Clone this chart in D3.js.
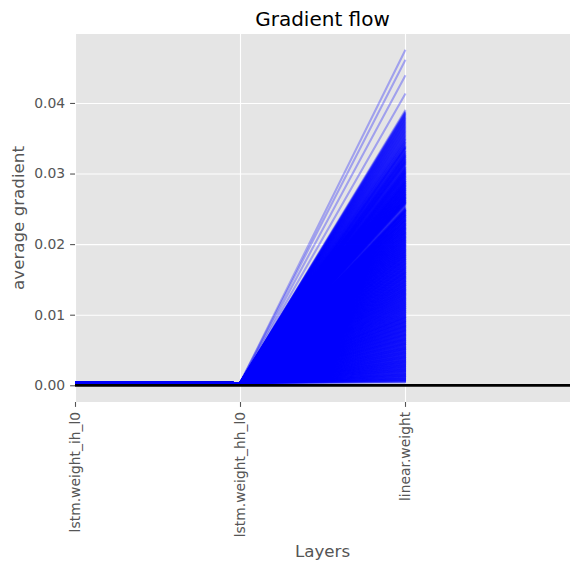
<!DOCTYPE html>
<html lang="en">
<head>
    <meta charset="UTF-8">
    <title>Gradient flow</title>
    <script src="https://d3js.org/d3.v7.min.js"></script>
    <style>
        body { margin: 0; background: #ffffff; }
        text { font-family: "DejaVu Sans", sans-serif; }
    </style>
</head>
<body>

    <script>
        // layer names along the x axis
        var layers = ["lstm.weight_ih_l0", "lstm.weight_hh_l0", "linear.weight"];
        var yTicks = [0, 0.01, 0.02, 0.03, 0.04];

        // average gradient of each layer, one entry per recorded step
        var gradIh = [
            0.00041, 0.00038, 0.00043, 0.00039, 0.00040, 0.00037, 0.00042, 0.00040, 0.00038, 0.00041,
            0.00039, 0.00042, 0.00040, 0.00037, 0.00041, 0.00039, 0.00044, 0.00038, 0.00040, 0.00042,
            0.00040, 0.00038, 0.00041, 0.00043, 0.00039, 0.00036, 0.00040, 0.00042, 0.00039, 0.00041,
            0.00042, 0.00039, 0.00037, 0.00040, 0.00041, 0.00038, 0.00043, 0.00040, 0.00039, 0.00037,
            0.00038, 0.00041, 0.00040, 0.00042, 0.00039, 0.00040, 0.00038, 0.00041, 0.00043, 0.00039,
            0.00040, 0.00037, 0.00039, 0.00041, 0.00042, 0.00038, 0.00040, 0.00039, 0.00041, 0.00040,
            0.00043, 0.00040, 0.00038, 0.00039, 0.00041, 0.00042, 0.00037, 0.00040, 0.00038, 0.00041,
            0.00039, 0.00041, 0.00042, 0.00038, 0.00040, 0.00039, 0.00041, 0.00043, 0.00040, 0.00038,
            0.00041, 0.00038, 0.00040, 0.00042, 0.00037, 0.00041, 0.00039, 0.00040, 0.00042, 0.00039,
            0.00040, 0.00042, 0.00039, 0.00041, 0.00038, 0.00040, 0.00043, 0.00039, 0.00038, 0.00041,
            0.00038, 0.00040, 0.00041, 0.00039, 0.00042, 0.00037, 0.00040, 0.00041, 0.00039, 0.00043,
            0.00041, 0.00039, 0.00038, 0.00042, 0.00040, 0.00041, 0.00038, 0.00039, 0.00040, 0.00042,
            0.00037, 0.00040, 0.00042, 0.00040, 0.00039, 0.00043, 0.00041, 0.00038, 0.00040, 0.00039,
            0.00042, 0.00038, 0.00040, 0.00039, 0.00041, 0.00040, 0.00038, 0.00042, 0.00041, 0.00037,
            0.00040, 0.00041, 0.00039, 0.00043, 0.00038, 0.00040, 0.00042, 0.00039, 0.00041, 0.00040,
            0.00039, 0.00037, 0.00041, 0.00040, 0.00042, 0.00039, 0.00040, 0.00041, 0.00038, 0.00042,
            0.00041, 0.00040, 0.00038, 0.00041, 0.00039, 0.00042, 0.00040, 0.00037, 0.00043, 0.00040,
            0.00038, 0.00042, 0.00040, 0.00039, 0.00041, 0.00038, 0.00041, 0.00040, 0.00039, 0.00042,
            0.00040, 0.00039, 0.00043, 0.00041, 0.00037, 0.00040, 0.00039, 0.00042, 0.00040, 0.00038,
            0.00041, 0.00040, 0.00039, 0.00038, 0.00042, 0.00041, 0.00040, 0.00039, 0.00043, 0.00040,
            0.00039, 0.00041, 0.00042, 0.00040, 0.00038, 0.00039, 0.00041, 0.00040, 0.00037, 0.00041,
            0.00042, 0.00038, 0.00040, 0.00041, 0.00039, 0.00043, 0.00040, 0.00038, 0.00041, 0.00039,
            0.00040, 0.00041, 0.00037, 0.00039, 0.00042, 0.00040, 0.00041, 0.00039, 0.00040, 0.00042,
            0.00038, 0.00040, 0.00042, 0.00041, 0.00039, 0.00038, 0.00040, 0.00043, 0.00039, 0.00040,
            0.00041, 0.00039, 0.00040, 0.00038, 0.00041, 0.00042, 0.00039, 0.00040, 0.00041, 0.00038,
            0.00043, 0.00040, 0.00039, 0.00041, 0.00040, 0.00037, 0.00042, 0.00041, 0.00039, 0.00040,
            0.00039, 0.00042, 0.00041, 0.00040, 0.00038, 0.00040, 0.00039, 0.00042, 0.00040, 0.00041,
            0.00040, 0.00038, 0.00039, 0.00042, 0.00041, 0.00040, 0.00043, 0.00038, 0.00040, 0.00039,
            0.00041, 0.00040, 0.00042, 0.00039, 0.00037, 0.00041, 0.00040, 0.00039, 0.00042, 0.00040,
            0.00038, 0.00041, 0.00040, 0.00042, 0.00040, 0.00039, 0.00038, 0.00041, 0.00040, 0.00043,
            0.00040, 0.00039, 0.00041, 0.00038, 0.00042, 0.00040, 0.00041, 0.00039, 0.00038, 0.00040,
            0.00042, 0.00040, 0.00038, 0.00040, 0.00039, 0.00041, 0.00042, 0.00040, 0.00039, 0.00041,
            0.00039, 0.00041, 0.00040, 0.00043, 0.00040, 0.00038, 0.00039, 0.00041, 0.00042, 0.00039,
            0.00040, 0.00038, 0.00042, 0.00039, 0.00041, 0.00040, 0.00042, 0.00038, 0.00040, 0.00041,
            0.00041, 0.00040, 0.00039, 0.00040, 0.00038, 0.00042, 0.00039, 0.00041, 0.00040, 0.00039,
            0.00039, 0.00042, 0.00040, 0.00041, 0.00039, 0.00040, 0.00041, 0.00038, 0.00040, 0.00042,
            0.00040, 0.00039, 0.00041, 0.00042, 0.00038, 0.00040, 0.00039, 0.00041, 0.00040, 0.00038,
            0.00042, 0.00040, 0.00039, 0.00041, 0.00040, 0.00038, 0.00041, 0.00043, 0.00039, 0.00040,
            0.00039, 0.00041, 0.00040, 0.00038, 0.00042, 0.00040, 0.00039, 0.00040, 0.00041, 0.00042,
            0.00040, 0.00043, 0.00041, 0.00039, 0.00040, 0.00038, 0.00042, 0.00040, 0.00039, 0.00041,
            0.00041, 0.00039, 0.00038, 0.00040, 0.00042, 0.00041, 0.00039, 0.00037, 0.00040, 0.00041,
            0.00038, 0.00040, 0.00042, 0.00041, 0.00039, 0.00040, 0.00043, 0.00040, 0.00041, 0.00039,
            0.00040, 0.00041, 0.00039, 0.00042, 0.00040, 0.00039, 0.00038, 0.00041, 0.00040, 0.00042,
            0.00042, 0.00039, 0.00040, 0.00038, 0.00041, 0.00040, 0.00042, 0.00039, 0.00040, 0.00041,
            0.00039, 0.00040, 0.00043, 0.00041, 0.00039, 0.00042, 0.00040, 0.00038, 0.00039, 0.00040,
            0.00041, 0.00038, 0.00040, 0.00039, 0.00042, 0.00041, 0.00040, 0.00039, 0.00041, 0.00037,
            0.00040, 0.00042, 0.00041, 0.00040, 0.00038, 0.00039, 0.00041, 0.00042, 0.00040, 0.00039,
            0.00038, 0.00041, 0.00039, 0.00040, 0.00043, 0.00040, 0.00039, 0.00041, 0.00038, 0.00040,
            0.00041, 0.00040, 0.00042, 0.00039, 0.00040, 0.00041, 0.00038, 0.00040, 0.00042, 0.00041,
            0.00039, 0.00042, 0.00040, 0.00041, 0.00039, 0.00038, 0.00040, 0.00041, 0.00039, 0.00043,
            0.00040, 0.00039, 0.00041, 0.00037, 0.00040, 0.00042, 0.00041, 0.00039, 0.00040, 0.00038,
            0.00042, 0.00040, 0.00039, 0.00041, 0.00040, 0.00039, 0.00042, 0.00040, 0.00038, 0.00041,
            0.00039, 0.00041, 0.00040, 0.00038, 0.00041, 0.00043, 0.00039, 0.00040, 0.00041, 0.00040,
            0.00040, 0.00038, 0.00041, 0.00040, 0.00039, 0.00041, 0.00040, 0.00042, 0.00039, 0.00040,
            0.00041, 0.00040, 0.00039, 0.00042, 0.00040, 0.00038, 0.00041, 0.00039, 0.00040, 0.00042,
            0.00038, 0.00041, 0.00040, 0.00039, 0.00043, 0.00040, 0.00041, 0.00038, 0.00040, 0.00039,
            0.00040, 0.00042, 0.00039, 0.00040, 0.00041, 0.00039, 0.00040, 0.00041, 0.00042, 0.00038,
            0.00041, 0.00039, 0.00040, 0.00042, 0.00038, 0.00041, 0.00039, 0.00040, 0.00041, 0.00040,
            0.00039, 0.00040, 0.00041, 0.00039, 0.00042, 0.00040, 0.00038, 0.00041, 0.00040, 0.00039,
            0.00042, 0.00041, 0.00039, 0.00040, 0.00038, 0.00041, 0.00040, 0.00043, 0.00039, 0.00041,
            0.00040, 0.00039, 0.00041, 0.00040, 0.00042, 0.00039, 0.00041, 0.00040, 0.00038, 0.00040,
            0.00039, 0.00041, 0.00042, 0.00040, 0.00039, 0.00040, 0.00038, 0.00041, 0.00040, 0.00042,
            0.00041, 0.00040, 0.00038, 0.00039, 0.00041, 0.00042, 0.00040, 0.00039, 0.00041, 0.00040,
            0.00040, 0.00042, 0.00040, 0.00041, 0.00039, 0.00038, 0.00041, 0.00040, 0.00039, 0.00042,
            0.00038, 0.00040, 0.00041, 0.00039, 0.00040, 0.00042, 0.00039, 0.00041, 0.00040, 0.00039,
            0.00041, 0.00039, 0.00040, 0.00042, 0.00041, 0.00040, 0.00039, 0.00038, 0.00041, 0.00040,
            0.00040, 0.00041, 0.00039, 0.00040, 0.00038, 0.00042, 0.00040, 0.00041, 0.00039, 0.00040,
            0.00039, 0.00040, 0.00042, 0.00038, 0.00040, 0.00041, 0.00040, 0.00039, 0.00041, 0.00040,
            0.00041, 0.00040, 0.00039, 0.00041, 0.00040, 0.00038, 0.00040, 0.00039, 0.00041, 0.00040,
            0.00040, 0.00041, 0.00038, 0.00042, 0.00040, 0.00039, 0.00041, 0.00040, 0.00043, 0.00039,
            0.00039, 0.00040, 0.00042, 0.00041, 0.00038, 0.00040, 0.00039, 0.00041, 0.00040, 0.00042,
            0.00042, 0.00039, 0.00040, 0.00038, 0.00041, 0.00043, 0.00040, 0.00039, 0.00041, 0.00040,
            0.00040, 0.00041, 0.00039, 0.00040, 0.00042, 0.00038, 0.00041, 0.00040, 0.00039, 0.00041,
            0.00038, 0.00040, 0.00041, 0.00042, 0.00039, 0.00040, 0.00041, 0.00039, 0.00040, 0.00042,
            0.00041, 0.00042, 0.00040, 0.00039, 0.00041, 0.00040, 0.00038, 0.00042, 0.00040, 0.00039,
            0.00040, 0.00039, 0.00041, 0.00040, 0.00038, 0.00042, 0.00041, 0.00040, 0.00039, 0.00041,
            0.00039, 0.00041, 0.00040, 0.00042, 0.00040, 0.00039, 0.00040, 0.00041, 0.00038, 0.00040,
            0.00041, 0.00040, 0.00039, 0.00040, 0.00041, 0.00042, 0.00039, 0.00040, 0.00041, 0.00039,
            0.00040, 0.00038, 0.00041, 0.00039, 0.00040, 0.00041, 0.00042, 0.00040, 0.00039, 0.00041,
            0.00042, 0.00040, 0.00039, 0.00041, 0.00040, 0.00039, 0.00041, 0.00038, 0.00040, 0.00041,
            0.00039, 0.00041, 0.00040, 0.00040, 0.00042, 0.00041, 0.00039, 0.00040, 0.00041, 0.00040
        ];
        var gradHh = [
            0.00029, 0.00031, 0.00028, 0.00030, 0.00032, 0.00029, 0.00027, 0.00030, 0.00031, 0.00028,
            0.00030, 0.00028, 0.00031, 0.00029, 0.00027, 0.00032, 0.00030, 0.00028, 0.00029, 0.00031,
            0.00031, 0.00029, 0.00030, 0.00028, 0.00031, 0.00030, 0.00029, 0.00032, 0.00028, 0.00030,
            0.00028, 0.00030, 0.00032, 0.00031, 0.00029, 0.00028, 0.00030, 0.00029, 0.00031, 0.00030,
            0.00030, 0.00031, 0.00029, 0.00027, 0.00030, 0.00031, 0.00028, 0.00030, 0.00032, 0.00029,
            0.00029, 0.00030, 0.00031, 0.00030, 0.00028, 0.00029, 0.00031, 0.00030, 0.00029, 0.00031,
            0.00031, 0.00028, 0.00029, 0.00031, 0.00030, 0.00032, 0.00029, 0.00028, 0.00030, 0.00029,
            0.00030, 0.00029, 0.00028, 0.00030, 0.00031, 0.00030, 0.00029, 0.00031, 0.00028, 0.00030,
            0.00028, 0.00031, 0.00030, 0.00029, 0.00032, 0.00030, 0.00031, 0.00029, 0.00030, 0.00028,
            0.00031, 0.00030, 0.00029, 0.00028, 0.00030, 0.00031, 0.00029, 0.00030, 0.00032, 0.00029,
            0.00029, 0.00028, 0.00031, 0.00030, 0.00029, 0.00030, 0.00028, 0.00031, 0.00029, 0.00030,
            0.00030, 0.00032, 0.00029, 0.00031, 0.00028, 0.00029, 0.00030, 0.00031, 0.00030, 0.00028,
            0.00031, 0.00029, 0.00030, 0.00028, 0.00031, 0.00030, 0.00029, 0.00028, 0.00031, 0.00030,
            0.00028, 0.00030, 0.00031, 0.00029, 0.00030, 0.00027, 0.00031, 0.00030, 0.00029, 0.00031,
            0.00030, 0.00029, 0.00028, 0.00031, 0.00029, 0.00030, 0.00032, 0.00029, 0.00030, 0.00028,
            0.00031, 0.00030, 0.00029, 0.00030, 0.00028, 0.00031, 0.00029, 0.00030, 0.00031, 0.00029,
            0.00029, 0.00031, 0.00030, 0.00028, 0.00030, 0.00029, 0.00031, 0.00030, 0.00028, 0.00031,
            0.00030, 0.00028, 0.00029, 0.00031, 0.00030, 0.00032, 0.00028, 0.00029, 0.00030, 0.00031,
            0.00028, 0.00030, 0.00031, 0.00029, 0.00030, 0.00029, 0.00031, 0.00028, 0.00030, 0.00029,
            0.00031, 0.00029, 0.00030, 0.00030, 0.00028, 0.00031, 0.00029, 0.00030, 0.00029, 0.00031,
            0.00030, 0.00031, 0.00028, 0.00029, 0.00031, 0.00030, 0.00028, 0.00030, 0.00031, 0.00029,
            0.00029, 0.00030, 0.00031, 0.00028, 0.00029, 0.00030, 0.00031, 0.00029, 0.00028, 0.00030,
            0.00031, 0.00028, 0.00030, 0.00029, 0.00031, 0.00029, 0.00030, 0.00032, 0.00030, 0.00029,
            0.00030, 0.00029, 0.00028, 0.00030, 0.00031, 0.00029, 0.00030, 0.00028, 0.00031, 0.00030,
            0.00028, 0.00031, 0.00030, 0.00029, 0.00030, 0.00028, 0.00029, 0.00031, 0.00030, 0.00029,
            0.00030, 0.00029, 0.00031, 0.00030, 0.00028, 0.00030, 0.00031, 0.00029, 0.00030, 0.00028,
            0.00029, 0.00030, 0.00028, 0.00031, 0.00030, 0.00029, 0.00030, 0.00031, 0.00029, 0.00030,
            0.00031, 0.00029, 0.00030, 0.00028, 0.00030, 0.00031, 0.00029, 0.00030, 0.00028, 0.00029,
            0.00030, 0.00031, 0.00029, 0.00030, 0.00028, 0.00029, 0.00031, 0.00030, 0.00029, 0.00031,
            0.00028, 0.00030, 0.00029, 0.00031, 0.00030, 0.00028, 0.00030, 0.00029, 0.00031, 0.00030,
            0.00030, 0.00029, 0.00031, 0.00028, 0.00030, 0.00031, 0.00029, 0.00028, 0.00030, 0.00029,
            0.00029, 0.00031, 0.00030, 0.00029, 0.00028, 0.00030, 0.00031, 0.00030, 0.00029, 0.00028,
            0.00031, 0.00030, 0.00028, 0.00030, 0.00029, 0.00031, 0.00030, 0.00029, 0.00031, 0.00030,
            0.00029, 0.00028, 0.00030, 0.00031, 0.00029, 0.00030, 0.00028, 0.00031, 0.00030, 0.00029,
            0.00030, 0.00029, 0.00031, 0.00030, 0.00028, 0.00029, 0.00030, 0.00031, 0.00029, 0.00030,
            0.00031, 0.00030, 0.00029, 0.00028, 0.00031, 0.00030, 0.00029, 0.00030, 0.00028, 0.00031,
            0.00029, 0.00030, 0.00028, 0.00031, 0.00030, 0.00029, 0.00031, 0.00030, 0.00029, 0.00030,
            0.00030, 0.00031, 0.00029, 0.00028, 0.00030, 0.00029, 0.00031, 0.00030, 0.00032, 0.00029,
            0.00028, 0.00030, 0.00031, 0.00029, 0.00030, 0.00031, 0.00028, 0.00029, 0.00030, 0.00031,
            0.00031, 0.00029, 0.00030, 0.00028, 0.00029, 0.00030, 0.00031, 0.00030, 0.00029, 0.00028,
            0.00029, 0.00030, 0.00032, 0.00030, 0.00028, 0.00031, 0.00029, 0.00030, 0.00031, 0.00029,
            0.00030, 0.00028, 0.00029, 0.00031, 0.00030, 0.00029, 0.00030, 0.00028, 0.00031, 0.00030,
            0.00031, 0.00030, 0.00028, 0.00029, 0.00031, 0.00030, 0.00029, 0.00031, 0.00030, 0.00028,
            0.00029, 0.00031, 0.00030, 0.00030, 0.00029, 0.00028, 0.00030, 0.00031, 0.00029, 0.00030,
            0.00030, 0.00029, 0.00031, 0.00028, 0.00030, 0.00031, 0.00029, 0.00030, 0.00028, 0.00031,
            0.00028, 0.00030, 0.00029, 0.00031, 0.00030, 0.00029, 0.00028, 0.00030, 0.00031, 0.00029,
            0.00031, 0.00029, 0.00030, 0.00029, 0.00031, 0.00030, 0.00028, 0.00029, 0.00030, 0.00031,
            0.00030, 0.00028, 0.00031, 0.00030, 0.00029, 0.00031, 0.00030, 0.00029, 0.00028, 0.00030,
            0.00029, 0.00031, 0.00030, 0.00028, 0.00030, 0.00029, 0.00031, 0.00030, 0.00029, 0.00030,
            0.00031, 0.00030, 0.00029, 0.00031, 0.00028, 0.00030, 0.00029, 0.00031, 0.00030, 0.00029,
            0.00028, 0.00029, 0.00031, 0.00030, 0.00029, 0.00030, 0.00031, 0.00028, 0.00030, 0.00031,
            0.00030, 0.00031, 0.00029, 0.00030, 0.00028, 0.00031, 0.00030, 0.00029, 0.00031, 0.00029,
            0.00029, 0.00030, 0.00028, 0.00031, 0.00030, 0.00029, 0.00030, 0.00031, 0.00029, 0.00028,
            0.00031, 0.00029, 0.00030, 0.00029, 0.00031, 0.00028, 0.00030, 0.00029, 0.00030, 0.00031,
            0.00030, 0.00031, 0.00029, 0.00030, 0.00028, 0.00030, 0.00029, 0.00031, 0.00030, 0.00028,
            0.00029, 0.00030, 0.00031, 0.00029, 0.00030, 0.00031, 0.00028, 0.00030, 0.00029, 0.00031,
            0.00031, 0.00028, 0.00030, 0.00031, 0.00029, 0.00030, 0.00029, 0.00028, 0.00031, 0.00030,
            0.00030, 0.00029, 0.00031, 0.00030, 0.00028, 0.00029, 0.00031, 0.00030, 0.00029, 0.00030,
            0.00028, 0.00031, 0.00029, 0.00030, 0.00031, 0.00030, 0.00029, 0.00028, 0.00030, 0.00031,
            0.00029, 0.00030, 0.00031, 0.00028, 0.00030, 0.00029, 0.00031, 0.00030, 0.00029, 0.00030,
            0.00031, 0.00029, 0.00030, 0.00031, 0.00029, 0.00028, 0.00030, 0.00031, 0.00030, 0.00029,
            0.00030, 0.00031, 0.00028, 0.00029, 0.00030, 0.00031, 0.00029, 0.00030, 0.00028, 0.00031,
            0.00029, 0.00030, 0.00031, 0.00030, 0.00029, 0.00028, 0.00031, 0.00029, 0.00030, 0.00030,
            0.00031, 0.00028, 0.00029, 0.00030, 0.00031, 0.00030, 0.00029, 0.00031, 0.00028, 0.00030,
            0.00030, 0.00029, 0.00031, 0.00029, 0.00030, 0.00028, 0.00031, 0.00030, 0.00029, 0.00031,
            0.00028, 0.00030, 0.00030, 0.00031, 0.00029, 0.00030, 0.00028, 0.00029, 0.00031, 0.00030,
            0.00031, 0.00030, 0.00029, 0.00028, 0.00030, 0.00031, 0.00030, 0.00029, 0.00030, 0.00028,
            0.00029, 0.00031, 0.00030, 0.00029, 0.00031, 0.00030, 0.00028, 0.00030, 0.00029, 0.00031,
            0.00030, 0.00028, 0.00031, 0.00030, 0.00029, 0.00030, 0.00031, 0.00029, 0.00028, 0.00030,
            0.00031, 0.00029, 0.00030, 0.00028, 0.00031, 0.00029, 0.00030, 0.00031, 0.00030, 0.00029,
            0.00030, 0.00031, 0.00029, 0.00028, 0.00030, 0.00031, 0.00029, 0.00030, 0.00031, 0.00029,
            0.00029, 0.00030, 0.00031, 0.00030, 0.00028, 0.00029, 0.00030, 0.00031, 0.00029, 0.00030,
            0.00031, 0.00029, 0.00028, 0.00030, 0.00031, 0.00030, 0.00029, 0.00030, 0.00031, 0.00028,
            0.00030, 0.00031, 0.00029, 0.00030, 0.00029, 0.00028, 0.00031, 0.00030, 0.00029, 0.00030,
            0.00028, 0.00030, 0.00031, 0.00029, 0.00030, 0.00031, 0.00029, 0.00030, 0.00028, 0.00031,
            0.00030, 0.00029, 0.00030, 0.00031, 0.00028, 0.00030, 0.00029, 0.00031, 0.00030, 0.00029,
            0.00031, 0.00030, 0.00029, 0.00030, 0.00031, 0.00029, 0.00028, 0.00030, 0.00031, 0.00030,
            0.00029, 0.00030, 0.00028, 0.00031, 0.00030, 0.00029, 0.00031, 0.00030, 0.00029, 0.00030,
            0.00030, 0.00031, 0.00029, 0.00030, 0.00028, 0.00031, 0.00030, 0.00029, 0.00030, 0.00031,
            0.00031, 0.00029, 0.00030, 0.00031, 0.00029, 0.00030, 0.00028, 0.00030, 0.00029, 0.00030
        ];
        var gradLinear = [
            0.0474, 0.0460, 0.0438, 0.0412, 0.0389, 0.0387, 0.0386, 0.0384, 0.0382, 0.0381,
            0.0379, 0.0377, 0.0376, 0.0374, 0.0372, 0.0371, 0.0369, 0.0367, 0.0366, 0.0364,
            0.0362, 0.0361, 0.0359, 0.0358, 0.0356, 0.0355, 0.0353, 0.0352, 0.0351, 0.0349,
            0.0348, 0.0347, 0.0345, 0.0344, 0.0343, 0.0342, 0.0340, 0.0339, 0.0338, 0.0337,
            0.0336, 0.0335, 0.0335, 0.0332, 0.0331, 0.0331, 0.0329, 0.0328, 0.0326, 0.0326,
            0.0325, 0.0324, 0.0323, 0.0322, 0.0321, 0.0320, 0.0319, 0.0318, 0.0317, 0.0316,
            0.0315, 0.0314, 0.0314, 0.0312, 0.0311, 0.0309, 0.0309, 0.0308, 0.0306, 0.0306,
            0.0305, 0.0304, 0.0303, 0.0302, 0.0301, 0.0300, 0.0299, 0.0298, 0.0297, 0.0296,
            0.0295, 0.0294, 0.0292, 0.0292, 0.0291, 0.0289, 0.0289, 0.0288, 0.0286, 0.0286,
            0.0285, 0.0284, 0.0283, 0.0282, 0.0281, 0.0280, 0.0279, 0.0278, 0.0277, 0.0276,
            0.0275, 0.0273, 0.0273, 0.0272, 0.0270, 0.0270, 0.0269, 0.0267, 0.0267, 0.0266,
            0.0265, 0.0264, 0.0263, 0.0262, 0.0261, 0.0260, 0.0259, 0.0258, 0.0257, 0.0256,
            0.0255, 0.0254, 0.0253, 0.0252, 0.0251, 0.0250, 0.0250, 0.0249, 0.0249, 0.0248,
            0.0248, 0.0248, 0.0247, 0.0247, 0.0247, 0.0246, 0.0246, 0.0245, 0.0245, 0.0244,
            0.0244, 0.0244, 0.0243, 0.0243, 0.0242, 0.0242, 0.0241, 0.0241, 0.0241, 0.0240,
            0.0240, 0.0239, 0.0239, 0.0238, 0.0238, 0.0238, 0.0237, 0.0237, 0.0236, 0.0236,
            0.0235, 0.0235, 0.0235, 0.0234, 0.0234, 0.0233, 0.0233, 0.0232, 0.0232, 0.0232,
            0.0231, 0.0231, 0.0230, 0.0230, 0.0229, 0.0229, 0.0229, 0.0228, 0.0228, 0.0227,
            0.0227, 0.0226, 0.0226, 0.0226, 0.0225, 0.0225, 0.0224, 0.0224, 0.0223, 0.0223,
            0.0223, 0.0222, 0.0222, 0.0221, 0.0221, 0.0220, 0.0220, 0.0220, 0.0219, 0.0219,
            0.0218, 0.0218, 0.0217, 0.0217, 0.0217, 0.0216, 0.0216, 0.0215, 0.0215, 0.0214,
            0.0214, 0.0214, 0.0213, 0.0213, 0.0212, 0.0212, 0.0211, 0.0211, 0.0211, 0.0210,
            0.0210, 0.0209, 0.0209, 0.0208, 0.0208, 0.0208, 0.0207, 0.0207, 0.0206, 0.0206,
            0.0205, 0.0205, 0.0205, 0.0204, 0.0204, 0.0203, 0.0203, 0.0202, 0.0202, 0.0202,
            0.0201, 0.0201, 0.0200, 0.0200, 0.0199, 0.0199, 0.0199, 0.0198, 0.0198, 0.0197,
            0.0197, 0.0196, 0.0196, 0.0196, 0.0195, 0.0195, 0.0194, 0.0194, 0.0193, 0.0193,
            0.0193, 0.0192, 0.0192, 0.0191, 0.0191, 0.0190, 0.0190, 0.0190, 0.0189, 0.0189,
            0.0188, 0.0188, 0.0187, 0.0187, 0.0187, 0.0186, 0.0186, 0.0185, 0.0185, 0.0184,
            0.0184, 0.0184, 0.0183, 0.0183, 0.0182, 0.0182, 0.0181, 0.0181, 0.0181, 0.0180,
            0.0180, 0.0179, 0.0179, 0.0178, 0.0178, 0.0178, 0.0177, 0.0177, 0.0176, 0.0176,
            0.0175, 0.0175, 0.0175, 0.0174, 0.0174, 0.0173, 0.0173, 0.0172, 0.0172, 0.0172,
            0.0171, 0.0171, 0.0170, 0.0170, 0.0169, 0.0169, 0.0169, 0.0168, 0.0168, 0.0167,
            0.0167, 0.0166, 0.0166, 0.0166, 0.0165, 0.0165, 0.0164, 0.0164, 0.0163, 0.0163,
            0.0163, 0.0162, 0.0162, 0.0161, 0.0161, 0.0160, 0.0160, 0.0160, 0.0159, 0.0159,
            0.0158, 0.0158, 0.0157, 0.0157, 0.0157, 0.0156, 0.0156, 0.0155, 0.0155, 0.0154,
            0.0154, 0.0154, 0.0153, 0.0153, 0.0152, 0.0152, 0.0151, 0.0151, 0.0151, 0.0150,
            0.0150, 0.0149, 0.0149, 0.0148, 0.0148, 0.0148, 0.0147, 0.0147, 0.0146, 0.0146,
            0.0145, 0.0145, 0.0145, 0.0144, 0.0144, 0.0143, 0.0143, 0.0142, 0.0142, 0.0142,
            0.0141, 0.0141, 0.0140, 0.0140, 0.0139, 0.0139, 0.0139, 0.0138, 0.0138, 0.0137,
            0.0137, 0.0136, 0.0136, 0.0136, 0.0135, 0.0135, 0.0134, 0.0134, 0.0133, 0.0133,
            0.0133, 0.0132, 0.0132, 0.0131, 0.0131, 0.0130, 0.0130, 0.0130, 0.0129, 0.0129,
            0.0128, 0.0128, 0.0127, 0.0127, 0.0127, 0.0126, 0.0126, 0.0125, 0.0125, 0.0124,
            0.0124, 0.0124, 0.0123, 0.0123, 0.0122, 0.0122, 0.0121, 0.0121, 0.0121, 0.0120,
            0.0120, 0.0119, 0.0119, 0.0118, 0.0118, 0.0118, 0.0117, 0.0117, 0.0116, 0.0116,
            0.0115, 0.0115, 0.0115, 0.0114, 0.0114, 0.0113, 0.0113, 0.0112, 0.0112, 0.0112,
            0.0111, 0.0111, 0.0110, 0.0110, 0.0109, 0.0109, 0.0109, 0.0108, 0.0108, 0.0107,
            0.0107, 0.0106, 0.0106, 0.0106, 0.0105, 0.0105, 0.0104, 0.0104, 0.0103, 0.0103,
            0.0103, 0.0102, 0.0102, 0.0101, 0.0101, 0.0100, 0.0100, 0.0100, 0.0099, 0.0099,
            0.0098, 0.0098, 0.0097, 0.0097, 0.0097, 0.0096, 0.0096, 0.0095, 0.0095, 0.0094,
            0.0094, 0.0094, 0.0093, 0.0093, 0.0092, 0.0092, 0.0091, 0.0091, 0.0091, 0.0090,
            0.0090, 0.0089, 0.0089, 0.0088, 0.0088, 0.0088, 0.0087, 0.0087, 0.0086, 0.0086,
            0.0085, 0.0085, 0.0085, 0.0084, 0.0084, 0.0083, 0.0083, 0.0082, 0.0082, 0.0082,
            0.0081, 0.0081, 0.0080, 0.0080, 0.0079, 0.0079, 0.0079, 0.0078, 0.0078, 0.0077,
            0.0077, 0.0076, 0.0076, 0.0076, 0.0075, 0.0075, 0.0074, 0.0074, 0.0073, 0.0073,
            0.0073, 0.0072, 0.0072, 0.0071, 0.0071, 0.0070, 0.0070, 0.0070, 0.0069, 0.0069,
            0.0068, 0.0068, 0.0067, 0.0067, 0.0067, 0.0066, 0.0066, 0.0065, 0.0065, 0.0064,
            0.0064, 0.0064, 0.0063, 0.0063, 0.0062, 0.0062, 0.0061, 0.0061, 0.0061, 0.0060,
            0.0060, 0.0059, 0.0059, 0.0058, 0.0058, 0.0058, 0.0057, 0.0057, 0.0056, 0.0056,
            0.0055, 0.0055, 0.0055, 0.0054, 0.0054, 0.0053, 0.0053, 0.0052, 0.0052, 0.0052,
            0.0051, 0.0051, 0.0050, 0.0050, 0.0049, 0.0049, 0.0049, 0.0048, 0.0048, 0.0047,
            0.0047, 0.0046, 0.0046, 0.0046, 0.0045, 0.0045, 0.0044, 0.0044, 0.0043, 0.0043,
            0.0043, 0.0042, 0.0042, 0.0041, 0.0041, 0.0040, 0.0040, 0.0040, 0.0039, 0.0039,
            0.0038, 0.0038, 0.0037, 0.0037, 0.0037, 0.0036, 0.0036, 0.0035, 0.0035, 0.0034,
            0.0034, 0.0034, 0.0033, 0.0033, 0.0032, 0.0032, 0.0031, 0.0031, 0.0031, 0.0030,
            0.0030, 0.0029, 0.0029, 0.0028, 0.0028, 0.0028, 0.0027, 0.0027, 0.0026, 0.0026,
            0.0025, 0.0025, 0.0025, 0.0024, 0.0024, 0.0023, 0.0023, 0.0022, 0.0022, 0.0022,
            0.0021, 0.0021, 0.0020, 0.0020, 0.0019, 0.0019, 0.0019, 0.0018, 0.0018, 0.0017,
            0.0017, 0.0016, 0.0016, 0.0016, 0.0015, 0.0015, 0.0014, 0.0014, 0.0013, 0.0013,
            0.0013, 0.0012, 0.0012, 0.0011, 0.0011, 0.0010, 0.0010, 0.0010, 0.0009, 0.0009,
            0.0008, 0.0008, 0.0007, 0.0007, 0.0007, 0.0006, 0.0006, 0.0005, 0.0005, 0.0004,
            0.0385, 0.0383, 0.0380, 0.0378, 0.0375, 0.0373, 0.0370, 0.0368, 0.0365, 0.0363,
            0.0360, 0.0357, 0.0354, 0.0350, 0.0347, 0.0344, 0.0341, 0.0338, 0.0336, 0.0334,
            0.0333, 0.0330, 0.0328, 0.0327, 0.0325, 0.0323, 0.0322, 0.0320, 0.0319, 0.0317,
            0.0316, 0.0315, 0.0313, 0.0312, 0.0310, 0.0308, 0.0307, 0.0305, 0.0304, 0.0303,
            0.0302, 0.0301, 0.0300, 0.0299, 0.0298, 0.0297, 0.0296, 0.0295, 0.0294, 0.0293,
            0.0292, 0.0291, 0.0290, 0.0289, 0.0288, 0.0287, 0.0287, 0.0286, 0.0285, 0.0284,
            0.0283, 0.0282, 0.0282, 0.0281, 0.0280, 0.0279, 0.0279, 0.0278, 0.0277, 0.0276,
            0.0276, 0.0275, 0.0274, 0.0274, 0.0273, 0.0272, 0.0271, 0.0271, 0.0270, 0.0269,
            0.0269, 0.0268, 0.0267, 0.0266, 0.0266, 0.0265, 0.0264, 0.0264, 0.0263, 0.0262,
            0.0262, 0.0261, 0.0261, 0.0260, 0.0259, 0.0259, 0.0258, 0.0258, 0.0257, 0.0256,
            0.0256, 0.0255, 0.0255, 0.0254, 0.0254, 0.0253, 0.0253, 0.0252, 0.0252, 0.0251,
            0.0251, 0.0250, 0.0250, 0.0249, 0.0248, 0.0247, 0.0246, 0.0245, 0.0244, 0.0243,
            0.0242, 0.0240, 0.0238, 0.0236, 0.0234, 0.0008, 0.0006, 0.0005, 0.0004, 0.0003
        ];

        // one line per step: [ih, hh, linear]
        var runs = gradLinear.map(function(v, i) { return [gradIh[i], gradHh[i], v]; });

        var margin = {top: 34, right: 10, bottom: 169, left: 75},
            width = 580 - margin.left - margin.right,
            height = 571 - margin.top - margin.bottom;

        var svg = d3.select("body").append("svg")
            .attr("width", 580)
            .attr("height", 571)
            .append("g")
            .attr("transform", "translate(" + margin.left + "," + margin.top + ")");

        // grey panel
        svg.append("rect")
            .attr("width", width)
            .attr("height", height)
            .style("fill", "#E5E5E5");

        svg.append("clipPath").attr("id", "clip")
            .append("rect").attr("width", width).attr("height", height);

        // x runs from 0 to number of layers, y gets a 5% margin like matplotlib
        var x = d3.scaleLinear().domain([0, layers.length]).range([0, width]);
        var yMax = d3.max(gradLinear), pad = yMax * 0.05;
        var y = d3.scaleLinear().domain([-pad, yMax + pad]).range([height, 0]);

        // white grid
        var xGrid = svg.append("g")
            .attr("transform", "translate(0," + height + ")")
            .call(d3.axisBottom(x).tickValues(d3.range(layers.length)).tickSize(-height).tickFormat(""));
        var yGrid = svg.append("g")
            .call(d3.axisLeft(y).tickValues(yTicks).tickSize(-width).tickFormat(""));
        svg.selectAll(".domain").remove();
        xGrid.selectAll("line").attr("stroke", "white").attr("stroke-width", 1.1);
        yGrid.selectAll("line").attr("stroke", "white").attr("stroke-width", 1.1);

        // gradient lines
        var line = d3.line()
            .x(function(d, i) { return x(i); })
            .y(function(d) { return y(d); });

        svg.append("g")
            .attr("clip-path", "url(#clip)")
            .selectAll("path")
            .data(runs)
            .enter()
            .append("path")
            .attr("d", line)
            .style("fill", "none")
            .style("stroke", "#0000ff")
            .style("stroke-opacity", 0.3)
            .style("stroke-width", 2.08)
            .style("stroke-linejoin", "round")
            .style("stroke-linecap", "square");

        // black zero line across the panel
        svg.append("line")
            .attr("clip-path", "url(#clip)")
            .attr("x1", x(0))
            .attr("x2", x(layers.length + 1))
            .attr("y1", y(0))
            .attr("y2", y(0))
            .style("stroke", "black")
            .style("stroke-width", 2.78);

        // axes
        var xAxis = svg.append("g")
            .attr("transform", "translate(0," + height + ")")
            .call(d3.axisBottom(x).tickValues(d3.range(layers.length))
                .tickFormat(function(i) { return layers[i]; })
                .tickSize(4.9).tickPadding(4.9));
        xAxis.select(".domain").remove();
        xAxis.selectAll("line").attr("stroke", "#555555").attr("stroke-width", 1.1);
        xAxis.selectAll("text")
            .attr("transform", "rotate(-90)")
            .attr("text-anchor", "end")
            .attr("x", -9.8)
            .attr("y", 0)
            .attr("dy", "0.35em")
            .style("font-size", "13.9px")
            .style("fill", "#555555");

        var yAxis = svg.append("g")
            .call(d3.axisLeft(y).tickValues(yTicks).tickFormat(d3.format(".2f"))
                .tickSize(4.9).tickPadding(4.9));
        yAxis.select(".domain").remove();
        yAxis.selectAll("line").attr("stroke", "#555555").attr("stroke-width", 1.1);
        yAxis.selectAll("text")
            .style("font-size", "13.9px")
            .style("fill", "#555555");

        // labels and title
        svg.append("text")
            .attr("x", width / 2)
            .attr("y", -8.3)
            .attr("text-anchor", "middle")
            .style("font-size", "20px")
            .style("fill", "black")
            .text("Gradient flow");

        svg.append("text")
            .attr("x", width / 2)
            .attr("y", 557 - margin.top)
            .attr("text-anchor", "middle")
            .style("font-size", "16.7px")
            .style("fill", "#555555")
            .text("Layers");

        svg.append("text")
            .attr("transform", "translate(" + (24 - margin.left) + "," + (height / 2) + ") rotate(-90)")
            .attr("text-anchor", "middle")
            .style("font-size", "16.7px")
            .style("fill", "#555555")
            .text("average gradient");
    </script>

</body>
</html>
